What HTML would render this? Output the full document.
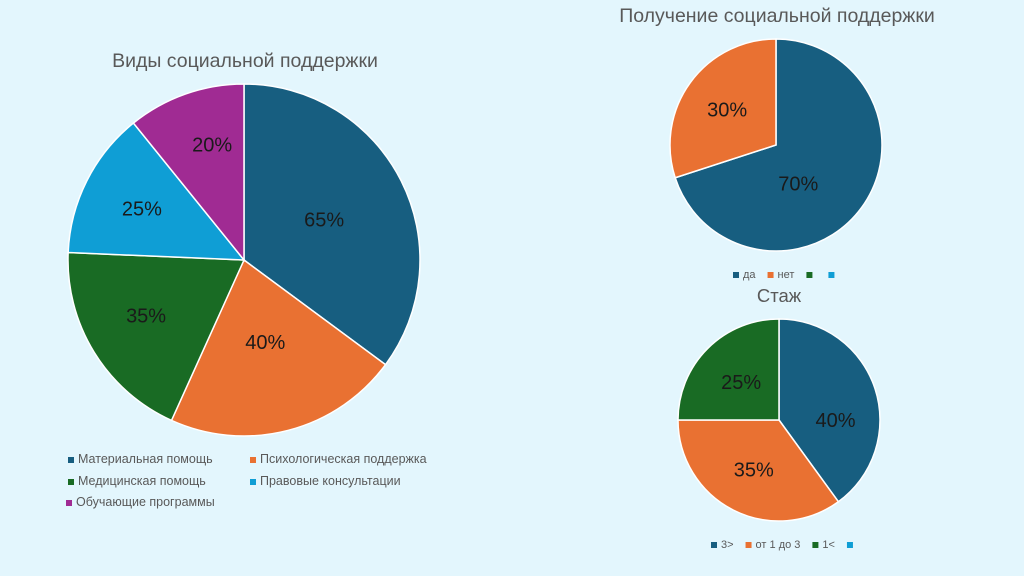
<!DOCTYPE html>
<html><head><meta charset="utf-8">
<style>
html,body{margin:0;padding:0;background:#e3f6fd;}
svg{display:block;font-family:"Liberation Sans","DejaVu Sans",sans-serif;}
</style></head>
<body>
<svg id="c" width="1024" height="576" viewBox="0 0 1024 576">
<rect width="1024" height="576" fill="#e3f6fd"/>
<text x="245" y="67" text-anchor="middle" font-size="19.5" fill="#595959">Виды социальной поддержки</text>
<text x="777" y="22" text-anchor="middle" font-size="19.5" fill="#595959">Получение социальной поддержки</text>
<text x="779" y="302" text-anchor="middle" font-size="18.5" fill="#595959">Стаж</text>
<g id="g1"></g>
<g id="g2"></g>
<g id="g3"></g>
<g id="legends"></g>
</svg>
<script>
const mainCats=["Материальная помощь","Психологическая поддержка","Медицинская помощь","Правовые консультации","Обучающие программы"];
const mainVals=[65,40,35,25,20];
const supCats=["да","нет","",""];
const supVals=[70,30];
const expCats=["3>","от 1 до 3","1<",""];
const expVals=[40,35,25];
const colors=["#175e80","#e97132","#196b24","#0f9ed5","#a02b93"];
const NS="http://www.w3.org/2000/svg";
function mk(tag,attrs,parent){const e=document.createElementNS(NS,tag);for(const k in attrs)e.setAttribute(k,attrs[k]);parent.appendChild(e);return e;}
function pie(gid,vals,cx,cy,r,lrs,nudges,fs,prefix){
  const g=document.getElementById(gid);
  const tot=vals.reduce((a,b)=>a+b,0);
  let a0=0;
  vals.forEach((v,i)=>{
    const a1=a0+v/tot*2*Math.PI;
    const x0=cx+r*Math.sin(a0),y0=cy-r*Math.cos(a0),x1=cx+r*Math.sin(a1),y1=cy-r*Math.cos(a1);
    const large=(a1-a0)>Math.PI?1:0;
    const p=mk('path',{d:`M${cx},${cy}L${x0},${y0}A${r},${r} 0 ${large} 1 ${x1},${y1}Z`,fill:colors[i],stroke:'#ffffff','stroke-width':1.5},g);
    
    
    const am=(a0+a1)/2+(nudges[i]||0)*Math.PI/180;
    const lr=lrs[i]||0.55;
    const t=mk('text',{x:cx+lr*r*Math.sin(am),y:cy-lr*r*Math.cos(am)+fs*0.35,'text-anchor':'middle','font-size':fs,fill:'#1a1a1a'},g);
    t.textContent=v+'%';
    
    
    a0=a1;
  });
}
pie('g1',mainVals,244,260,176,[0.51,0.48,0.64,0.65,0.68],[0,0,2,0,4],20,'main');
pie('g2',supVals,776,145,106,[0.42,0.57],[24,0],20,'support');
pie('g3',expVals,779,420,101,[0.56,0.55,0.53],[18,0,0],20,'experience');
const L=document.getElementById('legends');
function legItem(x,y,col,txt,fs,name){
  const r=mk('rect',{x:x,y:y-6,width:6,height:6,fill:col},L);
  
  
  const t=mk('text',{x:x+10,y:y,'font-size':fs,fill:'#595959'},L);
  t.textContent=txt;
  
  
  return t;
}
const mainPos=[[68,463],[250,463],[68,485],[250,485],[66,506]];
mainCats.forEach((c,i)=>legItem(mainPos[i][0],mainPos[i][1],colors[i],c,12.5,'main-legend-entry-'+i));
let x=733;
supCats.forEach((c,i)=>{const t=legItem(x,278,colors[i],c,11,'support-legend-entry-'+i);x+=10+(c?t.getComputedTextLength():0)+12;});
x=711;
expCats.forEach((c,i)=>{const t=legItem(x,548,colors[i],c,11,'experience-legend-entry-'+i);x+=10+(c?t.getComputedTextLength():0)+12;});
</script>
</body></html>
